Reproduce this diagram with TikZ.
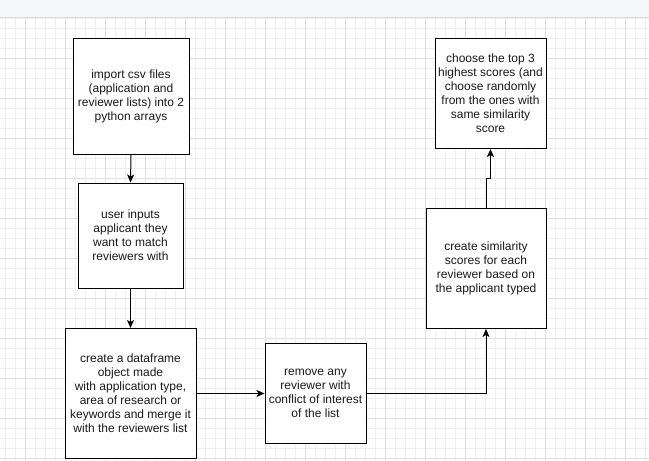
\documentclass[tikz,border=0pt]{standalone}
\usepackage{fontspec}
\setmainfont{Liberation Sans}
\usetikzlibrary{arrows.meta}
\definecolor{barfill}{HTML}{F5F6F8}
\definecolor{barline}{HTML}{DADCE0}
\definecolor{gridminor}{HTML}{F0F0F0}
\definecolor{gridmajor}{HTML}{E0E0E0}
\definecolor{txt}{HTML}{1A1A1A}
\tikzset{
  flowbox/.style={draw=black, line width=1pt, fill=white, align=center,
    inner sep=0pt, text=txt,
    font=\fontsize{12pt}{14pt}\selectfont},
  flowarrow/.style={draw=black, line width=1pt,
    -{Stealth[length=8pt,width=7pt,inset=2pt]}},
  flowline/.style={draw=black, line width=1pt}
}
\begin{document}
\begin{tikzpicture}[x=1pt,y=-1pt]
\useasboundingbox (0,0) rectangle (649,461);
\fill[white] (0,0) rectangle (649,461);
% grid
\foreach \x in {5.5,15.5,...,645.5} {\draw[gridminor,line width=1pt] (\x,18) -- (\x,461);}
\foreach \y in {18.5,28.5,...,460.5} {\draw[gridminor,line width=1pt] (0,\y) -- (649,\y);}
\foreach \x in {25.5,65.5,...,645.5} {\draw[gridmajor,line width=1pt] (\x,18) -- (\x,461);}
\foreach \y in {58.5,98.5,...,460.5} {\draw[gridmajor,line width=1pt] (0,\y) -- (649,\y);}
% top bar
\fill[barfill] (0,0) rectangle (649,17);
\draw[barline,line width=1pt] (0,17.5) -- (649,17.5);
% boxes
\node[flowbox, minimum width=116pt, minimum height=116pt] (b1) at (131,96.5)
  {import csv files\\(application and\\reviewer lists) into 2\\python arrays};
\node[flowbox, minimum width=105pt, minimum height=105pt] (b2) at (130.5,235.5)
  {user inputs\\applicant they\\want to match\\reviewers with};
\node[flowbox, minimum width=131pt, minimum height=130pt] (b3) at (130.5,393.5)
  {create a dataframe\\object made\\with application type,\\area of research or\\keywords and merge it\\with the reviewers list};
\node[flowbox, minimum width=101pt, minimum height=100pt] (b4) at (315.5,393.5)
  {remove any\\reviewer with\\conflict of interest\\of the list};
\node[flowbox, minimum width=120pt, minimum height=120pt] (b5) at (486,268.5)
  {create similarity\\scores for each\\reviewer based on\\the applicant typed};
\node[flowbox, minimum width=111pt, minimum height=110pt] (b6) at (490.5,93.5)
  {choose the top 3\\highest scores (and\\choose randomly\\from the ones with\\same similarity\\score};
% connectors
\draw[flowarrow] (b1.south) -- (b2.north);
\draw[flowarrow] (b2.south) -- (b3.north);
\draw[flowarrow] (b3.east) -- (b4.west);
\coordinate (c1) at (b5.south |- b4.east);
\draw[flowarrow] (b4.east) -- (c1) -- (b5.south);
\coordinate (c2) at (486,178.5);
\coordinate (c3) at (490.5,178.5);
\draw[flowarrow] (b5.north) -- (c2) -- (c3) -- (b6.south);
\end{tikzpicture}
\end{document}
